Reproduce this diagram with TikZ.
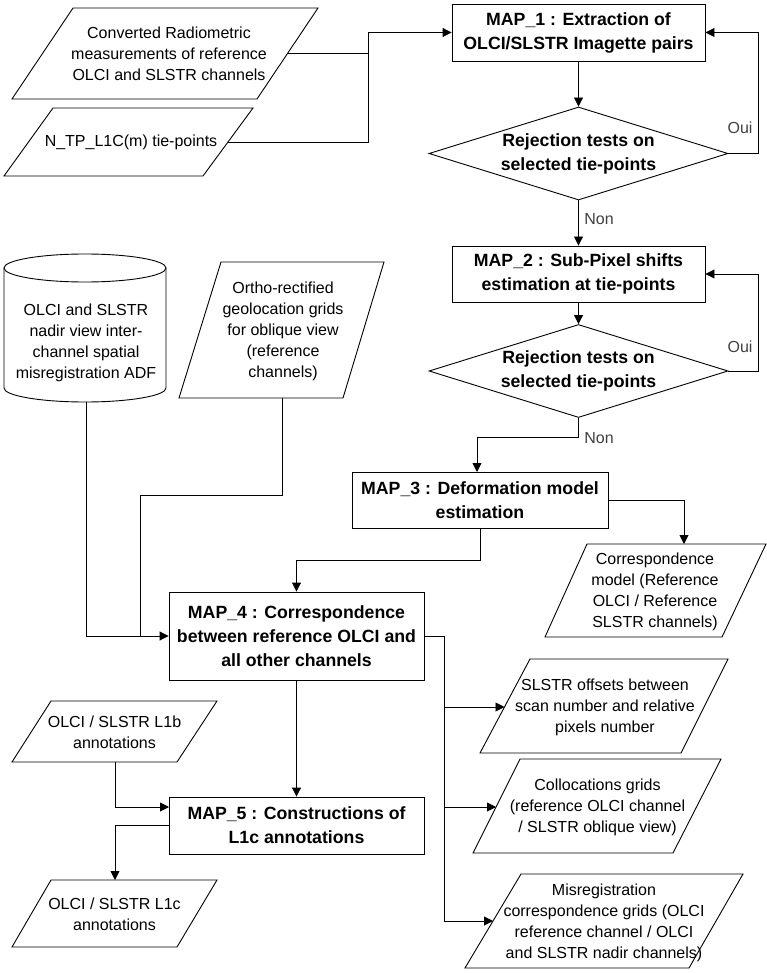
\documentclass[tikz,border=0pt]{standalone}
\usepackage{fontspec}
\setmainfont{Liberation Sans}
\usetikzlibrary{arrows.meta,shapes.geometric}
\definecolor{yngray}{RGB}{64,64,64}
\begin{document}
\begin{tikzpicture}[x=1pt,y=-1pt,
  shp/.style={draw=black, line width=0.9pt, line join=miter},
  con/.style={draw=black, line width=0.9pt},
  arr/.style={con, -{Triangle[length=9pt,width=9pt]}},
  proc/.style={draw, line width=0.9pt, inner sep=0pt, align=center, font=\fontsize{17.7}{24}\selectfont\bfseries},
  dec/.style={diamond, draw, line width=0.9pt, inner sep=0pt, minimum width=299pt, minimum height=93pt},
  dectext/.style={align=center, inner sep=0pt, font=\fontsize{17.7}{24}\selectfont\bfseries},
  iotext/.style={align=center, inner sep=0pt, font=\fontsize{16}{21}\selectfont},
  yn/.style={font=\fontsize{16}{21}\selectfont, text=yngray, inner sep=0pt}]
\useasboundingbox[fill=white] (0,0) rectangle (767,973);

% ---------- inputs (top left)
\draw[shp] (73,8) -- (318,8) -- (257,99) -- (12,99) -- cycle;
\node[iotext] (conv) at (169,54) {Converted Radiometric\\measurements of reference\\OLCI and SLSTR channels};
\coordinate (convR) at (287.5,53.5);

\draw[shp] (53,108) -- (253,108) -- (203,176) -- (4,176) -- cycle;
\node[iotext] (tp) at (131,142) {N\_TP\_L1C(m) tie-points};
\coordinate (tpR) at (228,142);

% ---------- MAP_1 and test
\node[proc, minimum width=253pt, minimum height=57pt] (map1) at (578.5,32.5) {MAP\_1 : Extraction of\\OLCI/SLSTR Imagette pairs};
\node[dec] (d1) at (578.5,153.5) {};
\node[dectext] (d1t) at (d1) {Rejection tests on\\selected tie-points};

\coordinate (j1) at (368,53.5);
\draw[arr] (convR) -- (j1) |- (map1);
\draw[con] (tpR) -| (j1);
\draw[arr] (map1) -- (d1);
\coordinate (o1) at (758,153.5);
\draw[arr] (d1.east) -- (o1) |- (map1);
\node[yn] (oui1) at (740,128) {Oui};

% ---------- MAP_2 and test
\node[proc, minimum width=253pt, minimum height=56pt] (map2) at (578.5,274) {MAP\_2 : Sub-Pixel shifts\\estimation at tie-points};
\draw[arr] (d1) -- (map2);
\node[yn] (non1) at (599,219) {Non};
\node[dec] (d2) at (578.5,371) {};
\node[dectext] (d2t) at (d2) {Rejection tests on\\selected tie-points};
\draw[arr] (map2) -- (d2);
\coordinate (o2) at (758,371);
\draw[arr] (d2.east) -- (o2) |- (map2);
\node[yn] (oui2) at (740,347) {Oui};

% ---------- MAP_3
\node[proc, minimum width=256pt, minimum height=56pt] (map3) at (480,500) {MAP\_3 : Deformation model\\estimation};
\coordinate (j2) at (578.5,437);
\coordinate (m3top) at (477,472);
\draw[arr] (d2.south) -- (j2) -| (m3top);
\node[yn] (non2) at (599,438) {Non};

% correspondence model output
\draw[shp] (587,544) -- (766,544) -- (722,637) -- (545,637) -- cycle;
\node[iotext] (corr) at (655,592) {Correspondence\\model (Reference\\OLCI / Reference\\SLSTR channels)};
\coordinate (corrT) at (684,544);
\draw[arr] (map3) -| (corrT);

% ---------- cylinder ADF
\draw[shp] (4,268) -- (4,388) .. controls (4,395.7) and (40.3,402) .. (85,402)
  .. controls (129.7,402) and (166,395.7) .. (166,388) -- (166,268);
\draw[shp] (4,268) .. controls (4,260.3) and (40.3,254) .. (85,254)
  .. controls (129.7,254) and (166,260.3) .. (166,268)
  .. controls (166,275.7) and (129.7,282) .. (85,282)
  .. controls (40.3,282) and (4,275.7) .. (4,268) -- cycle;
\node[iotext] (adf) at (86,343) {OLCI and SLSTR\\nadir view inter-\\channel spatial\\misregistration ADF};
\coordinate (adfB) at (86,402);

% ortho-rectified grids
\draw[shp] (221,262) -- (384,262) -- (343,398) -- (179,398) -- cycle;
\node[iotext] (ortho) at (283,331) {Ortho-rectified\\geolocation grids\\for oblique view\\(reference\\channels)};
\coordinate (orthoB) at (282,398);

% ---------- MAP_4
\node[proc, minimum width=255pt, minimum height=88pt] (map4) at (296.5,636) {MAP\_4 : Correspondence\\between reference OLCI and\\all other channels};
\coordinate (j3) at (480,560);
\draw[arr] (map3) -- (j3) -| (map4);
\draw[arr] (adfB) |- (map4);
\coordinate (j4) at (282,495);
\coordinate (j5) at (140,636);
\draw[con] (orthoB) -- (j4) -| (j5);

% outputs of MAP_4
\draw[shp] (530,659) -- (728,659) -- (681,753) -- (480,753) -- cycle;
\node[iotext] (offs) at (605,707) {SLSTR offsets between\\scan number and relative\\pixels number};
\coordinate (offsL) at (504.5,707);

\draw[shp] (520,759) -- (721,759) -- (673,853) -- (473,853) -- cycle;
\node[iotext] (coll) at (597.5,807) {Collocations grids\\(reference OLCI channel\\/ SLSTR oblique view)};
\coordinate (collL) at (496,807);

\draw[shp] (521,874) -- (743,874) -- (689,968) -- (465,968) -- cycle;
\node[iotext] (misr) at (604,922.5) {Misregistration\\correspondence grids (OLCI\\reference channel / OLCI\\and SLSTR nadir channels)};
\coordinate (misrL) at (493,921);

\coordinate (k0) at (444,636);
\coordinate (k3) at (444,921);
\draw[con] (map4.east) -- (k0) -- (k3);
\draw[arr] (offsL -| k0) -- (offsL);
\draw[arr] (collL -| k0) -- (collL);
\draw[arr] (k3) -- (misrL);

% ---------- MAP_5
\node[proc, minimum width=255pt, minimum height=57pt] (map5) at (296.5,825.5) {MAP\_5 : Constructions of\\L1c annotations};
\draw[arr] (map4) -- (map5);

\draw[shp] (51,701) -- (217,701) -- (177,762) -- (12,762) -- cycle;
\node[iotext] (l1b) at (114.5,732) {OLCI / SLSTR L1b\\annotations};
\coordinate (l1bB) at (115,762);
\coordinate (m5in) at (169,807);
\draw[arr] (l1bB) |- (m5in);

\draw[shp] (51,880) -- (217,880) -- (177,947) -- (12,947) -- cycle;
\node[iotext] (l1c) at (114.5,914) {OLCI / SLSTR L1c\\annotations};
\coordinate (l1cT) at (115,880);
\draw[arr] (map5.west) -| (l1cT);
\end{tikzpicture}
\end{document}
